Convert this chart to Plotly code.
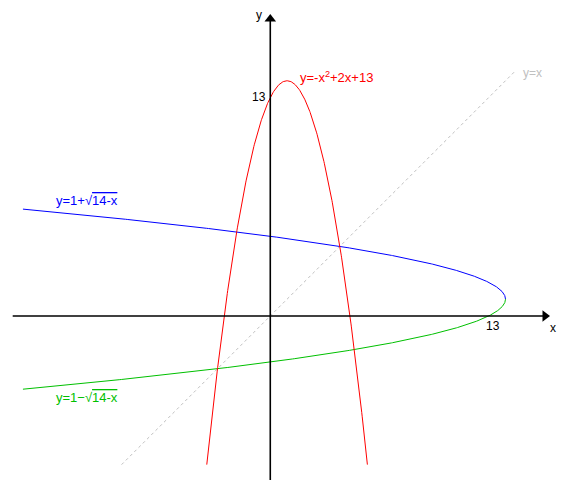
import numpy as np
import plotly.graph_objects as go

# ---- data (function definitions and plotted domains) ----
parab_coef = [-1, 2, 13]          # y = -x^2 + 2x + 13
parab_x_range = [-3.78, 5.78]
sqrt_center = 14                   # y = 1 +/- sqrt(14 - x)
sqrt_offset = 1
sqrt_x_min = -14.72
diag_range = [-8.85, 14.6]         # y = x
tick_value = 13

x_range = [-15.61, 17.66]
y_range = [-10.30, 18.33]
axis_x_extent = [-15.33, 16.65]
axis_y_extent = [-9.76, 17.98]

FONT = "Liberation Sans, Arial, sans-serif"
RED = "#ff0000"
BLUE = "#0000ff"
GREEN = "#00c000"
GRAY = "#c0c0c0"

xp = np.linspace(parab_x_range[0], parab_x_range[1], 400)
yp = parab_coef[0] * xp**2 + parab_coef[1] * xp + parab_coef[2]

t = np.linspace(0, np.sqrt(sqrt_center - sqrt_x_min), 400)
xs = sqrt_center - t**2
y_up = sqrt_offset + t
y_dn = sqrt_offset - t

xd = np.array(diag_range)

fig = go.Figure()
fig.add_trace(go.Scatter(x=xd, y=xd, mode="lines",
                         line=dict(color=GRAY, width=1, dash="3px,3px")))
fig.add_trace(go.Scatter(x=xs, y=y_up, mode="lines", line=dict(color=BLUE, width=1)))
fig.add_trace(go.Scatter(x=xs, y=y_dn, mode="lines", line=dict(color=GREEN, width=1)))
fig.add_trace(go.Scatter(x=xp, y=yp, mode="lines", line=dict(color=RED, width=1)))

# axes with arrowheads
head = 0.3
fig.add_trace(go.Scatter(x=[axis_x_extent[0], axis_x_extent[1] - head], y=[0, 0],
                         mode="lines", line=dict(color="black", width=1.6)))
fig.add_trace(go.Scatter(x=[0, 0], y=[axis_y_extent[0], axis_y_extent[1] - head],
                         mode="lines", line=dict(color="black", width=1.6)))
fig.add_trace(go.Scatter(x=[axis_x_extent[1] - head], y=[0], mode="markers",
                         marker=dict(symbol="triangle-right", size=10, color="black")))
fig.add_trace(go.Scatter(x=[0], y=[axis_y_extent[1] - head], mode="markers",
                         marker=dict(symbol="triangle-up", size=10, color="black")))

ann = []


def label(x, y, text, color="black", xanchor="center", size=12):
    ann.append(dict(x=x, y=y, xref="x", yref="y", text=text, showarrow=False,
                    xanchor=xanchor, yanchor="middle", borderpad=0,
                    font=dict(family=FONT, size=size, color=color)))


label(16.83, -0.71, "x")
label(-0.67, 17.89, "y")
label(13.26, -0.6, str(tick_value))
label(-0.67, 13.04, str(tick_value))
label(1.71, 14.23, "y=-x<sup>2</sup>+2x+13", RED, "left", 13)
label(-12.83, 6.9,
      "y=1+√<span style='text-decoration:overline'>14-x</span>", BLUE, "left", 13)
label(-12.83, -4.88,
      "y=1−√<span style='text-decoration:overline'>14-x</span>", GREEN, "left", 13)
label(14.96, 14.45, "y=x", GRAY, "left")

fig.update_layout(
    width=559, height=481,
    margin=dict(l=0, r=0, t=0, b=0),
    paper_bgcolor="white", plot_bgcolor="white",
    showlegend=False,
    hovermode=False,
    xaxis=dict(range=x_range, visible=False, fixedrange=True),
    yaxis=dict(range=y_range, visible=False, fixedrange=True),
    annotations=ann,
)

fig.write_html("out.html", config={"displayModeBar": False})
